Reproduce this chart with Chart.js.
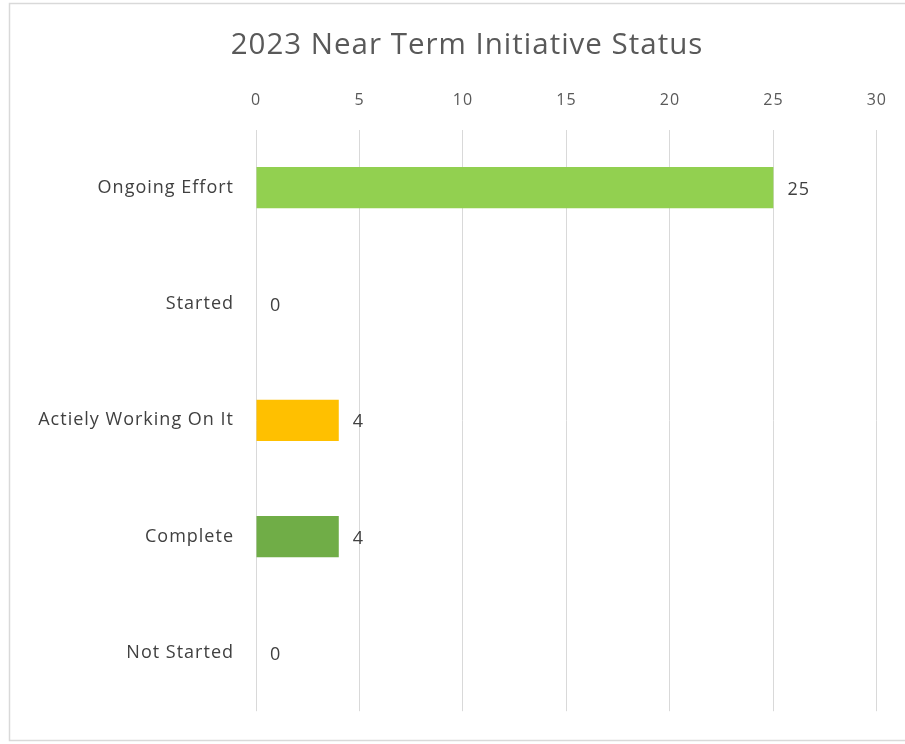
<!DOCTYPE html>
<html>
<head>
<meta charset="utf-8">
<script src="https://cdn.jsdelivr.net/npm/chart.js@4"></script>
<style>
    html, body { margin: 0; padding: 0; background: #fff; }
    #wrap { width: 905px; height: 744px; position: relative; }
</style>
</head>
<body>
<div id="wrap"><canvas id="statusChart" width="905" height="744"></canvas></div>
<script>
// chart data
const chartTitle = '2023 Near Term Initiative Status';
const categories = ['Ongoing Effort', 'Started', 'Actiely Working On It', 'Complete', 'Not Started'];
const counts = [25, 0, 4, 4, 0];
const barColors = ['#92D050', '#5B9BD5', '#FFC000', '#70AD47', '#A5A5A5'];
const xTicks = [0, 5, 10, 15, 20, 25, 30];

const FONT = '"Open Sans", Lato, sans-serif';

// light frame around the chart, like the office export
const frameBorder = {
    id: 'frameBorder',
    beforeDraw(chart) {
        const { ctx } = chart;
        ctx.save();
        ctx.fillStyle = '#fff';
        ctx.fillRect(0, 0, chart.width, chart.height);
        ctx.strokeStyle = '#d9d9d9';
        ctx.lineWidth = 1.5;
        ctx.strokeRect(9.5, 3.5, chart.width + 10, 737);
        ctx.restore();
        // the original text is a bit wide, spread the letters a little
        ctx.letterSpacing = '1px';
    },
};

// title centred over the frame rather than the canvas
const frameTitle = {
    id: 'frameTitle',
    afterDraw(chart) {
        const { ctx } = chart;
        ctx.save();
        ctx.font = `29.5px ${FONT}`;
        ctx.fillStyle = '#595959';
        ctx.textAlign = 'center';
        ctx.textBaseline = 'middle';
        ctx.fillText(chartTitle, 467, 46);
        ctx.restore();
    },
};

// value next to the end of each bar
const valueLabels = {
    id: 'valueLabels',
    afterDatasetsDraw(chart) {
        const { ctx } = chart;
        const meta = chart.getDatasetMeta(0);
        ctx.save();
        ctx.font = `18px ${FONT}`;
        ctx.fillStyle = '#404040';
        ctx.textAlign = 'left';
        ctx.textBaseline = 'middle';
        meta.data.forEach((bar, i) => {
            ctx.fillText(String(counts[i]), bar.x + 14, bar.y + 2);
        });
        ctx.restore();
    },
};

const ctx = document.getElementById('statusChart').getContext('2d');
new Chart(ctx, {
    type: 'bar',
    data: {
        labels: categories,
        datasets: [{
            label: 'Status',
            data: counts,
            backgroundColor: barColors,
            borderWidth: 0,
            categoryPercentage: 1,
            barPercentage: 0.355,
        }],
    },
    options: {
        indexAxis: 'y',
        responsive: false,
        animation: false,
        layout: {
            padding: { top: 62, left: 0, right: 27, bottom: 28 },
        },
        plugins: {
            legend: { display: false },
            tooltip: { enabled: false },
            title: { display: false },
        },
        scales: {
            x: {
                position: 'top',
                min: 0,
                max: 30,
                afterBuildTicks(axis) {
                    axis.ticks = xTicks.map(v => ({ value: v }));
                },
                afterFit(scale) {
                    scale.height = 67.5;
                },
                border: { display: false },
                grid: {
                    color: '#d9d9d9',
                    lineWidth: 1,
                    drawTicks: false,
                },
                ticks: {
                    color: '#595959',
                    padding: 19,
                    font: { family: FONT, size: 16 },
                },
            },
            y: {
                afterFit(scale) {
                    scale.width = 256;
                },
                border: { display: false },
                grid: { display: false, drawTicks: false },
                ticks: {
                    color: '#404040',
                    padding: 22,
                    font: { family: FONT, size: 18 },
                },
            },
        },
    },
    plugins: [frameBorder, valueLabels, frameTitle],
});
</script>
</body>
</html>
